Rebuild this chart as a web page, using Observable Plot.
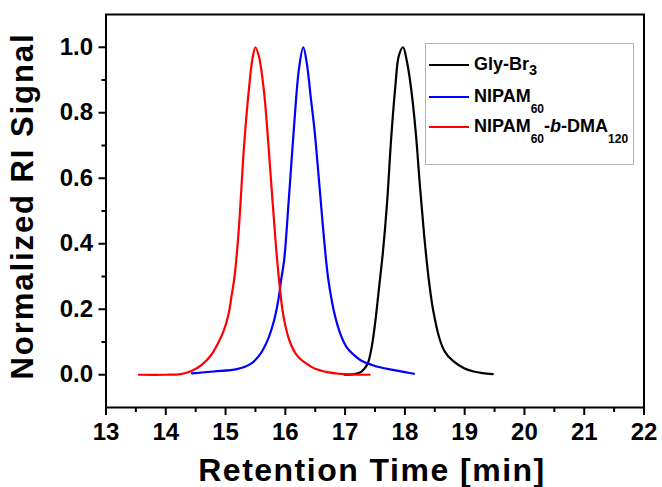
<!DOCTYPE html>
<html>
<head>
<meta charset="utf-8">
<script src="https://cdn.jsdelivr.net/npm/d3@7"></script>
<script src="https://cdn.jsdelivr.net/npm/@observablehq/plot@0.6"></script>
<style>
  body { margin: 0; background: #fff; }
  #wrap { position: relative; width: 662px; height: 487px; }
  #legend { position: absolute; left: 425px; top: 43px; width: 209px; height: 122px; border: 1px solid #b4b4b4; box-sizing: border-box; font-family: "Liberation Sans", Arial, sans-serif; font-weight: bold; color: #000; }
  .sw { position: absolute; left: 3px; width: 40px; height: 2px; }
  .lab { position: absolute; left: 48px; font-size: 18px; line-height: 20px; white-space: nowrap; }
  .s3 { font-size: 14.5px; position: relative; top: 5px; }
  .s60 { font-size: 12px; position: relative; top: 11px; }
</style>
</head>
<body>
<div id="wrap"></div>
<script>
// ---- data ----
const seriesNames = ["Gly-Br3", "NIPAM60", "NIPAM60-b-DMA120"];
const seriesLabelsHTML = [
  'Gly-Br<span class="s3">3</span>',
  'NIPAM<span class="s60">60</span>',
  'NIPAM<span class="s60">60</span>-<i>b</i>-DMA<span class="s60">120</span>'
];
const seriesColors = ["#000000", "#0000ff", "#ff0000"];

const glyX = [16.99, 17.15, 17.26, 17.32, 17.38, 17.45, 17.51, 17.57, 17.63, 17.70, 17.77, 17.84, 17.90, 17.97, 18.03, 18.10, 18.18, 18.25, 18.32, 18.40, 18.47, 18.58, 18.67, 18.80, 18.99, 19.15, 19.30, 19.47];
const glyY = [0, 0.002, 0.008, 0.018, 0.035, 0.09, 0.17, 0.27, 0.37, 0.52, 0.72, 0.88, 0.975, 1.0, 0.96, 0.88, 0.744, 0.58, 0.43, 0.29, 0.2, 0.11, 0.07, 0.043, 0.02, 0.01, 0.005, 0.002];

const nipX = [14.44, 14.8, 15.19, 15.42, 15.58, 15.70, 15.81, 15.89, 15.93, 15.98, 16.06, 16.14, 16.23, 16.30, 16.36, 16.43, 16.49, 16.56, 16.63, 16.72, 16.83, 16.92, 17.03, 17.15, 17.28, 17.45, 17.60, 17.80, 18.00, 18.15];
const nipY = [0.004, 0.01, 0.017, 0.033, 0.063, 0.104, 0.165, 0.236, 0.29, 0.35, 0.54, 0.744, 0.937, 1.0, 0.95, 0.84, 0.744, 0.6, 0.45, 0.29, 0.18, 0.125, 0.083, 0.06, 0.042, 0.03, 0.022, 0.015, 0.008, 0.003];

const blkX = [13.55, 14.0, 14.25, 14.44, 14.6, 14.75, 14.87, 14.97, 15.05, 15.1, 15.15, 15.22, 15.31, 15.39, 15.45, 15.5, 15.56, 15.64, 15.70, 15.77, 15.84, 15.90, 15.95, 16.0, 16.05, 16.1, 16.17, 16.25, 16.37, 16.5, 16.7, 16.9, 17.1, 17.41];
const blkY = [0, 0, 0.002, 0.012, 0.03, 0.058, 0.095, 0.135, 0.185, 0.24, 0.30, 0.44, 0.70, 0.87, 0.965, 1.0, 0.97, 0.87, 0.744, 0.57, 0.40, 0.28, 0.2, 0.15, 0.115, 0.09, 0.065, 0.048, 0.032, 0.018, 0.008, 0.003, 0.001, 0];

const xMajor = [13, 14, 15, 16, 17, 18, 19, 20, 21, 22];
const xMinor = [13.5, 14.5, 15.5, 16.5, 17.5, 18.5, 19.5, 20.5, 21.5];
const yMajor = [0.0, 0.2, 0.4, 0.6, 0.8, 1.0];
const yMinor = [0.1, 0.3, 0.5, 0.7, 0.9];
const xTitle = "Retention Time [min]";
const yTitle = "Normalized RI Signal";

// ---- table ----
const xs = [glyX, nipX, blkX], ys = [glyY, nipY, blkY];
const data = [];
seriesNames.forEach((name, i) => xs[i].forEach((t, j) => data.push({series: name, t, v: ys[i][j]})));

const font = "'Liberation Sans', Arial, Helvetica, sans-serif";
const plot = Plot.plot({
  width: 662, height: 487,
  marginLeft: 105.5, marginRight: 18.5, marginTop: 14, marginBottom: 80,
  x: {domain: [13, 22], label: null},
  y: {domain: [-0.1, 1.1], label: null},
  color: {domain: seriesNames, range: seriesColors},
  style: {fontFamily: font, background: "white", color: "black", overflow: "visible"},
  marks: [
    Plot.axisX(xMinor, {tickSize: 5, fill: "none", strokeWidth: 2, label: null}),
    Plot.axisX(xMajor, {tickSize: 8, tickPadding: 7, tickFormat: d => String(d), fontSize: 24, fontWeight: "bold", strokeWidth: 2, label: null}),
    Plot.axisY(yMinor, {tickSize: 4, fill: "none", strokeWidth: 2, label: null}),
    Plot.axisY(yMajor, {tickSize: 7, tickPadding: 6, tickFormat: d => d.toFixed(1), fontSize: 24, fontWeight: "bold", strokeWidth: 2, label: null}),
    Plot.line(data, {x: "t", y: "v", z: "series", stroke: "series", strokeWidth: 2.2, curve: "catmull-rom"}),
    Plot.frame({stroke: "black", strokeWidth: 2}),
    Plot.text([xTitle], {frameAnchor: "bottom", textAnchor: "middle", lineAnchor: "bottom", dx: -3, dy: 73, fontSize: 32, fontWeight: "bold"}),
    Plot.text([yTitle], {frameAnchor: "left", textAnchor: "middle", lineAnchor: "middle", dx: -83, dy: -5, rotate: -90, fontSize: 31, fontWeight: "bold"})
  ]
});
document.getElementById("wrap").appendChild(plot);

// widen the titles' lettering to the reference's text length
d3.select(plot).selectAll("text").each(function() {
  const target = this.textContent === xTitle ? 346 : this.textContent === yTitle ? 345 : null;
  if (target == null) return;
  const n = this.textContent.length;
  const len = this.getComputedTextLength();
  const ls = Math.max(0, (target - len) / (n - 1));
  this.style.letterSpacing = ls + "px";
});

// ---- legend ----
const legend = document.createElement("div");
legend.id = "legend";
const rowY = [21, 53, 83];
seriesNames.forEach((name, i) => {
  const sw = document.createElement("div");
  sw.className = "sw";
  sw.style.top = (rowY[i] - 1) + "px";
  sw.style.background = seriesColors[i];
  legend.appendChild(sw);
  const lab = document.createElement("div");
  lab.className = "lab";
  lab.style.top = (rowY[i] - 11) + "px";
  lab.innerHTML = seriesLabelsHTML[i];
  legend.appendChild(lab);
});
document.getElementById("wrap").appendChild(legend);
</script>
</body>
</html>
